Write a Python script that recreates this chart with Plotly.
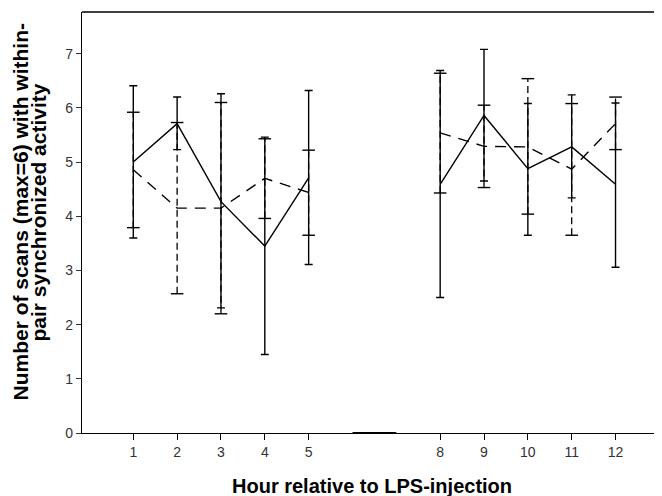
import plotly.graph_objects as go

# ---- data ----
hours = [1, 2, 3, 4, 5, 8, 9, 10, 11, 12]
tick_labels = ["1", "2", "3", "4", "5", "8", "9", "10", "11", "12"]

solid_mean = [5.00, 5.71, 4.27, 3.45, 4.71, 4.59, 5.86, 4.88, 5.28, 4.59]
solid_upper = [6.41, 6.20, 6.26, 5.46, 6.32, 6.69, 7.08, 6.08, 6.24, 6.09]
solid_lower = [3.60, 5.23, 2.31, 1.45, 3.11, 2.50, 4.65, 3.65, 4.34, 3.06]

dashed_mean = [4.86, 4.15, 4.15, 4.70, 4.44, 5.54, 5.29, 5.28, 4.87, 5.71]
dashed_upper = [5.92, 5.73, 6.10, 5.43, 5.22, 6.64, 6.05, 6.54, 6.08, 6.20]
dashed_lower = [3.79, 2.57, 2.20, 3.96, 3.65, 4.43, 4.53, 4.04, 3.65, 5.23]

zero_hours = [6, 7]
zero_vals = [0, 0]

x_title = "Hour relative to LPS-injection"
y_title_lines = ["Number of scans (max=6) with within-", "pair synchronized activity"]

# ---- helpers ----
def with_gap(vals):
    # break the line between hour 5 and hour 8
    return list(vals[:5]) + [None] + list(vals[5:])

x_gap = with_gap(hours)

fig = go.Figure()

# solid series with error bars
fig.add_trace(go.Scatter(
    x=x_gap, y=with_gap(solid_mean), mode="lines",
    line=dict(color="black", width=1.4),
    connectgaps=False, showlegend=False,
))
fig.add_trace(go.Scatter(
    x=hours, y=solid_mean, mode="markers",
    marker=dict(size=1, color="rgba(0,0,0,0)"),
    error_y=dict(type="data", symmetric=False,
                 array=[u - m for u, m in zip(solid_upper, solid_mean)],
                 arrayminus=[m - l for m, l in zip(solid_mean, solid_lower)],
                 color="black", thickness=1.4, width=4),
    showlegend=False,
))

# dashed series
fig.add_trace(go.Scatter(
    x=x_gap, y=with_gap(dashed_mean), mode="lines",
    line=dict(color="black", width=1.4, dash="11px,8px"),
    connectgaps=False, showlegend=False,
))
# dashed error stems
stem_x, stem_y = [], []
for h, lo, hi in zip(hours, dashed_lower, dashed_upper):
    stem_x += [h, h, None]
    stem_y += [lo, hi, None]
fig.add_trace(go.Scatter(
    x=stem_x, y=stem_y, mode="lines",
    line=dict(color="black", width=1.3, dash="7px,4px"),
    showlegend=False,
))
# dashed error caps
fig.add_trace(go.Scatter(
    x=hours + hours, y=dashed_upper + dashed_lower, mode="markers",
    marker=dict(symbol="line-ew", size=9, line=dict(color="black", width=1.4)),
    showlegend=False,
))

# zero segment between hours 6 and 7
fig.add_trace(go.Scatter(
    x=zero_hours, y=zero_vals, mode="lines",
    line=dict(color="black", width=2.2),
    showlegend=False, cliponaxis=False,
))

tick_font = dict(family="Liberation Sans Narrow, Liberation Sans, Arial, sans-serif",
                 size=14, color="#333")

fig.update_layout(
    width=654, height=488,
    margin=dict(l=74, r=0, t=4, b=63),
    paper_bgcolor="white", plot_bgcolor="white",
    font=dict(family="Liberation Sans, Arial, sans-serif", color="#222"),
    showlegend=False,
    xaxis=dict(
        range=[-0.17, 13.06], tickmode="array", tickvals=hours, ticktext=tick_labels,
        showgrid=False, zeroline=False, showline=True, linecolor="black", linewidth=1.3,
        ticks="outside", ticklen=6, tickwidth=1.3, tickcolor="black",
        tickfont=tick_font,
    ),
    yaxis=dict(
        range=[0, 7.77], tickmode="array", tickvals=[0, 1, 2, 3, 4, 5, 6, 7],
        showgrid=False, zeroline=False, showline=True, linecolor="black", linewidth=1.3,
        ticks="outside", ticklen=5, tickwidth=1.2, tickcolor="#333",
        tickfont=tick_font,
    ),
    shapes=[dict(type="line", xref="paper", yref="paper", x0=0, x1=1, y0=1, y1=1,
                 line=dict(color="black", width=1.3))],
    annotations=[
        dict(text="<b>" + x_title + "</b>", xref="paper", yref="paper",
             x=0.5, y=0, yshift=-53, xanchor="center", yanchor="middle", showarrow=False,
             font=dict(size=20, color="black")),
        dict(text="<b>" + y_title_lines[0] + "</b>",
             xref="paper", yref="paper", x=0, xshift=-62, y=0.5, yshift=10,
             xanchor="center", yanchor="middle", textangle=-90, showarrow=False,
             font=dict(size=21, color="black")),
        dict(text="<b>" + y_title_lines[1] + "</b>",
             xref="paper", yref="paper", x=0, xshift=-44, y=0.5, yshift=10,
             xanchor="center", yanchor="middle", textangle=-90, showarrow=False,
             font=dict(size=21, color="black")),
    ],
)

fig.write_html("out.html")
